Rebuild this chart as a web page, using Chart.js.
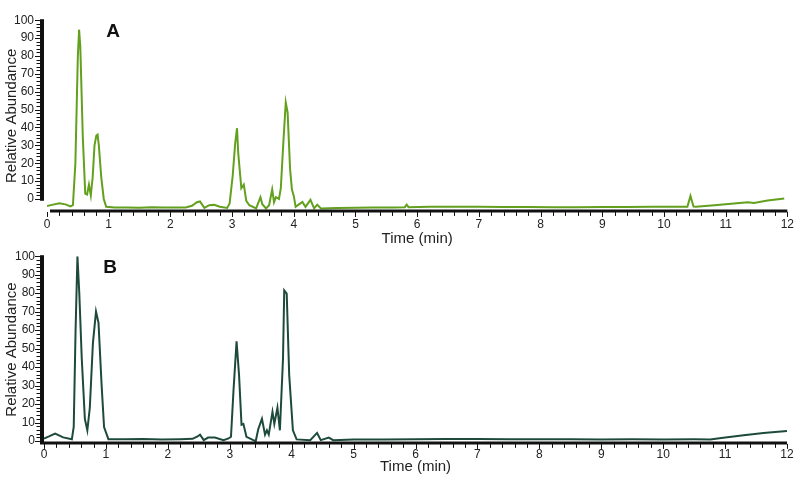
<!DOCTYPE html>
<html lang="en">
<head>
    <meta charset="UTF-8">
    <title>Chromatograms</title>
    <script src="https://cdn.jsdelivr.net/npm/chart.js"></script>
    <style type="text/css">
        body{
            margin: 0;
            background: #fff;
        }
        .panel{
            position: absolute;
            left: 0;
            width: 800px;
        }
        #top{ top: 0px; height: 250px; }
        #bottom{ top: 240px; height: 240px; }
    </style>
</head>
<body>
    <div class="panel" id="top"><canvas id="chartA" width="800" height="250"></canvas></div>
    <div class="panel" id="bottom"><canvas id="chartB" width="800" height="240"></canvas></div>
    <script>
        // ticks
        const xTicks = [0,1,2,3,4,5,6,7,8,9,10,11,12];
        const yTicks = [0,10,20,30,40,50,60,70,80,90,100];

        // trace A (time in min, relative abundance)
        const timesA = [0.00,0.08,0.20,0.30,0.38,0.42,0.46,0.50,0.52,0.54,0.58,0.62,0.65,0.68,0.71,0.74,0.77,0.80,0.82,0.84,0.88,0.92,0.96,
            1.10,1.30,1.50,1.70,1.90,2.10,2.25,2.35,2.43,2.48,2.55,2.63,2.71,2.80,2.92,2.96,3.01,3.05,3.08,3.10,3.15,3.19,3.23,3.28,3.39,
            3.46,3.49,3.55,3.60,3.65,3.68,3.71,3.76,3.79,3.83,3.87,3.90,3.94,3.97,4.00,4.03,4.09,4.14,4.19,4.27,4.33,4.38,4.44,
            4.70,5.00,5.30,5.60,5.80,5.83,5.86,6.20,6.60,7.00,7.40,7.80,8.20,8.60,9.00,9.40,9.80,10.20,10.38,10.43,10.48,10.52,
            10.82,11.09,11.36,11.46,11.68,11.95];
        const abundA = [-4.0,-3.3,-2.4,-3.0,-4.2,-3.5,20,80,94.7,85,35,3,2.5,8,2,12,30,35.5,36,30,12,0,-4.4,
            -4.8,-4.7,-4.9,-4.6,-4.8,-4.7,-4.8,-3.8,-1.8,-1.4,-5,-3.5,-3.3,-4.3,-5,-2.5,13,31,39.6,25.5,6,8,-1,-3.5,-5.3,
            1,-2.9,-5.3,-3.5,5.3,-1.8,1,0,6,31,54,48.4,16.7,5.3,1.7,-4.4,-2.9,-1.7,-4.4,-0.5,-5.3,-3.2,-5.3,
            -5.0,-4.9,-4.8,-4.7,-4.6,-3.2,-4.6,-4.4,-4.3,-4.4,-4.5,-4.5,-4.6,-4.6,-4.5,-4.5,-4.4,-4.4,-4.3,1.7,-4.3,-4.4,
            -3.5,-2.6,-1.8,-2.2,-0.9,0.3];

        // trace B
        const timesB = [0.00,0.08,0.18,0.31,0.45,0.48,0.51,0.54,0.57,0.61,0.66,0.70,0.74,0.79,0.84,0.88,0.93,0.97,1.04,
            1.30,1.60,1.90,2.20,2.40,2.48,2.52,2.58,2.65,2.76,2.90,2.98,3.02,3.06,3.11,3.15,3.19,3.22,3.27,3.38,3.42,
            3.46,3.52,3.57,3.60,3.63,3.69,3.72,3.77,3.81,3.86,3.88,3.92,3.96,4.02,4.08,4.30,4.41,4.47,4.60,4.67,
            5.0,5.5,6.0,6.5,7.0,7.5,8.0,8.5,9.0,9.5,10.0,10.5,10.76,10.97,11.30,11.62,12.0];
        const abundB = [1.4,2.5,4,2,1,7.6,60,100,80,44.5,12,5.8,18,53,70,64,30.5,7.6,1,
            1,1.1,0.9,1,1.2,2.5,3.5,0.5,1.9,1.9,0.5,1.4,2.3,27,54,35.8,8.8,9.3,2.3,0.5,0,
            6.4,12,3.5,5.8,3.5,15.8,9.3,18,5.8,44.5,81.5,79.8,35.8,5.8,0.9,0.5,4.4,0.5,1.9,0.5,
            0.8,0.9,1.0,1.1,1.1,1.0,1.0,1.0,0.9,1.0,0.9,1.0,0.9,1.8,3.2,4.4,5.5];

        Chart.defaults.font.family = "'Liberation Sans', Arial, sans-serif";
        Chart.defaults.color = '#222';

        // dibuja los ejes gruesos con sus marcas pequeñas
        const axesPlugin = {
            id: 'axesPlugin',
            afterDraw(chart, args, opts) {
                const ctx = chart.ctx;
                const xs = chart.scales.x, ys = chart.scales.y;
                const area = chart.chartArea;
                ctx.save();
                ctx.strokeStyle = '#111';
                ctx.fillStyle = '#111';
                // eje y
                const bx = area.left + opts.yBarOffset;
                ctx.lineWidth = 4;
                ctx.beginPath();
                ctx.moveTo(bx, ys.getPixelForValue(100) - 1);
                ctx.lineTo(bx, ys.getPixelForValue(opts.yBarMin));
                ctx.stroke();
                ctx.lineWidth = 1;
                for (let v = 0; v <= 100; v += 2) {
                    const py = Math.round(ys.getPixelForValue(v)) + 0.5;
                    const len = v % 10 === 0 ? 5 : 3.5;
                    ctx.beginPath();
                    ctx.moveTo(bx - 2, py);
                    ctx.lineTo(bx - 2 - len, py);
                    ctx.stroke();
                }
                // eje x
                const by = ys.getPixelForValue(opts.xBarAt);
                ctx.lineWidth = 3;
                ctx.beginPath();
                ctx.moveTo(area.left + opts.xBarStart, by);
                ctx.lineTo(xs.getPixelForValue(12), by);
                ctx.stroke();
                ctx.lineWidth = 1;
                for (let i = 0; i <= 60; i++) {
                    const px = Math.round(xs.getPixelForValue(i * 0.2)) + 0.5;
                    const len = i % 5 === 0 ? 5 : 4;
                    ctx.beginPath();
                    ctx.moveTo(px, by + 1);
                    ctx.lineTo(px, by + 1 + len);
                    ctx.stroke();
                }
                // letra del panel
                ctx.font = "bold 19px 'Liberation Sans', Arial, sans-serif";
                ctx.textAlign = 'center';
                ctx.textBaseline = 'middle';
                ctx.fillText(opts.letter, opts.letterX, opts.letterY);
                ctx.restore();
            }
        };

        function makeChart(id, times, values, color, p) {
            const pts = times.map((t, i) => ({x: t, y: values[i]}));
            return new Chart(document.getElementById(id), {
                type: 'line',
                data: {
                    datasets: [{
                        data: pts,
                        borderColor: color,
                        borderWidth: 2,
                        pointRadius: 0,
                        tension: 0
                    }]
                },
                options: {
                    responsive: false,
                    animation: false,
                    layout: { padding: { left: 0, right: p.right, top: p.top, bottom: 0 } },
                    plugins: {
                        legend: { display: false },
                        tooltip: { enabled: false },
                        axesPlugin: p.axes
                    },
                    scales: {
                        x: {
                            type: 'linear',
                            min: 0, max: 12,
                            afterBuildTicks: s => { s.ticks = xTicks.map(v => ({value: v})); },
                            afterFit: s => { s.height = p.xHeight; },
                            grid: { display: false, drawTicks: false },
                            border: { display: false },
                            ticks: { padding: p.xPad, maxRotation: 0, font: { size: 12 } },
                            title: { display: true, text: 'Time (min)', font: { size: 15 }, padding: { top: 0, bottom: p.xTitlePad } }
                        },
                        y: {
                            min: p.yMin, max: 100,
                            afterBuildTicks: s => { s.ticks = yTicks.map(v => ({value: v})); },
                            afterFit: s => { s.width = p.yWidth; },
                            grid: { display: false, drawTicks: false },
                            border: { display: false },
                            ticks: { padding: p.yPad, font: { size: 12 } },
                            title: { display: true, text: 'Relative Abundance', font: { size: 15 }, padding: { top: 3, bottom: 0 } }
                        }
                    }
                },
                plugins: [axesPlugin]
            });
        }

        makeChart('chartA', timesA, abundA, '#62a01e', {
            right: 10, top: 9, xHeight: 38.5, yWidth: 47, yMin: -7, xPad: 6, yPad: 13, xTitlePad: 2,
            axes: { yBarOffset: -5, yBarMin: -1, xBarAt: -6.7, xBarStart: 3, letter: 'A', letterX: 113, letterY: 32 }
        });
        makeChart('chartB', timesB, abundB, '#1d4a3b', {
            right: 13, top: 11.7, xHeight: 37.1, yWidth: 44, yMin: -1, xPad: 5, yPad: 9, xTitlePad: 4,
            axes: { yBarOffset: -2, yBarMin: -1, xBarAt: -1, xBarStart: -4, letter: 'B', letterX: 110, letterY: 28 }
        });
    </script>
</body>
</html>
